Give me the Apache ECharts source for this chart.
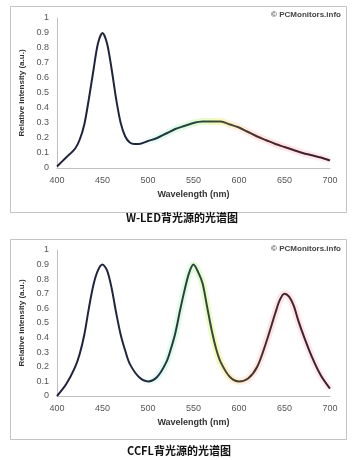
<!DOCTYPE html>
<html><head><meta charset="utf-8">
<script src="https://cdn.jsdelivr.net/npm/echarts@6/dist/echarts.min.js"></script>
<style>html,body{margin:0;padding:0;background:#fff}#c{width:358px;height:460px}</style>
</head><body><div id="c"></div>
<script>
// W-LED spectrum
const ledWl  = [400,410,420,425,430,435,440,445,450,455,460,465,470,475,480,485,490,500,510,520,530,540,550,560,570,580,590,600,610,620,630,640,650,660,670,680,690,700];
const ledVal = [0.01,0.07,0.13,0.19,0.29,0.46,0.65,0.83,0.9,0.83,0.66,0.46,0.3,0.21,0.17,0.16,0.16,0.18,0.2,0.23,0.26,0.28,0.3,0.31,0.31,0.31,0.29,0.27,0.24,0.21,0.185,0.16,0.14,0.12,0.1,0.085,0.07,0.05];
// CCFL spectrum
const ccflWl  = [400,410,420,425,430,435,440,445,450,455,460,465,470,475,480,490,500,510,520,525,530,535,540,545,550,555,560,565,570,575,580,590,600,610,620,630,640,645,650,655,660,665,670,680,690,700];
const ccflVal = [0,0.08,0.2,0.29,0.42,0.6,0.76,0.86,0.9,0.86,0.74,0.57,0.42,0.31,0.22,0.13,0.1,0.13,0.23,0.32,0.43,0.58,0.72,0.84,0.9,0.85,0.77,0.61,0.45,0.32,0.23,0.13,0.1,0.12,0.2,0.37,0.57,0.66,0.7,0.68,0.62,0.52,0.43,0.27,0.14,0.05];
const xTicks = ['400','450','500','550','600','650','700'];
const yTicks = ['0','0.1','0.2','0.3','0.4','0.5','0.6','0.7','0.8','0.9','1'];
const captions = ['W-LED背光源的光谱图','CCFL背光源的光谱图'];
const credit = '© PCMonitors.info';
const xName = 'Wavelength (nm)';
const yName = 'Relative intensity (a.u.)';

const chart = echarts.init(document.getElementById('c'));
const G = echarts.graphic;
function lineGrad(){
  return new G.LinearGradient(0,0,1,0,[
    {offset:0,color:'#1f1f3d'},{offset:0.3,color:'#20283e'},
    {offset:0.45,color:'#24403e'},{offset:0.55,color:'#2f4a38'},
    {offset:0.62,color:'#4a4a30'},{offset:0.75,color:'#452a32'},
    {offset:1,color:'#3a1f2c'}]);
}
function glowGrad(){
  return new G.LinearGradient(0,0,1,0,[
    {offset:0,color:'rgba(255,255,255,0)'},{offset:0.3,color:'rgba(120,220,220,0.0)'},
    {offset:0.38,color:'rgba(80,230,200,0.18)'},{offset:0.5,color:'rgba(120,240,90,0.22)'},
    {offset:0.58,color:'rgba(220,240,40,0.3)'},{offset:0.66,color:'rgba(255,170,60,0.18)'},
    {offset:0.8,color:'rgba(255,80,100,0.16)'},{offset:1,color:'rgba(255,60,120,0.1)'}]);
}
const grids = [{left:57,right:28,top:18,height:150},{left:57,right:28,top:250,height:146}];
const xAxes = [], yAxes = [], series = [];
[[ledWl,ledVal],[ccflWl,ccflVal]].forEach((d,i)=>{
  xAxes.push({type:'value',gridIndex:i,min:Number(xTicks[0]),max:Number(xTicks[xTicks.length-1]),interval:50,
    axisLine:{lineStyle:{color:'#c0c0c0'}},axisTick:{show:false},splitLine:{show:false},
    axisLabel:{color:'#555',fontSize:9,margin:8,fontFamily:'Liberation Sans'},
    name:xName,nameLocation:'middle',nameGap:22,
    nameTextStyle:{color:'#333',fontSize:9,fontWeight:'bold',fontFamily:'Liberation Sans'}});
  yAxes.push({type:'value',gridIndex:i,min:Number(yTicks[0]),max:Number(yTicks[yTicks.length-1]),interval:0.1,
    axisLine:{show:true,lineStyle:{color:'#c0c0c0'}},axisTick:{show:false},splitLine:{show:false},
    axisLabel:{color:'#555',fontSize:9,margin:8,fontFamily:'Liberation Sans',
      formatter:v=>yTicks[Math.round(v*10)]},
    name:yName,nameLocation:'middle',nameGap:29,nameRotate:90,
    nameTextStyle:{color:'#333',fontSize:8,fontWeight:'bold',fontFamily:'Liberation Sans'}});
  const data = d[0].map((w,k)=>[w,d[1][k]]);
  series.push({type:'line',xAxisIndex:i,yAxisIndex:i,data,smooth:0.3,symbol:'none',silent:true,
    lineStyle:{width:7,color:glowGrad()},z:1});
  series.push({type:'line',xAxisIndex:i,yAxisIndex:i,data,smooth:0.3,symbol:'none',silent:true,
    lineStyle:{width:2,color:lineGrad()},z:2});
});
chart.setOption({
  animation:false,
  grid:grids,xAxis:xAxes,yAxis:yAxes,series,
  graphic:[
    {type:'rect',shape:{x:10.5,y:6.5,width:336,height:206},style:{fill:'none',stroke:'#c4c4c4',lineWidth:1},z:-1},
    {type:'rect',shape:{x:10.5,y:239.5,width:336,height:200},style:{fill:'none',stroke:'#c4c4c4',lineWidth:1},z:-1},
    {type:'text',right:17,top:11,style:{text:credit,fill:'#444',fontSize:8,fontWeight:'bold',fontFamily:'Liberation Sans'}},
    {type:'text',right:17,top:245,style:{text:credit,fill:'#444',fontSize:8,fontWeight:'bold',fontFamily:'Liberation Sans'}},
    {type:'text',x:182,y:218,style:{text:captions[0],fill:'#111',fontSize:11,fontWeight:'bold',fontFamily:'Noto Sans CJK SC',align:'center',verticalAlign:'middle'}},
    {type:'text',x:179,y:451,style:{text:captions[1],fill:'#111',fontSize:11,fontWeight:'bold',fontFamily:'Noto Sans CJK SC',align:'center',verticalAlign:'middle'}}
  ]
});
</script></body></html>
